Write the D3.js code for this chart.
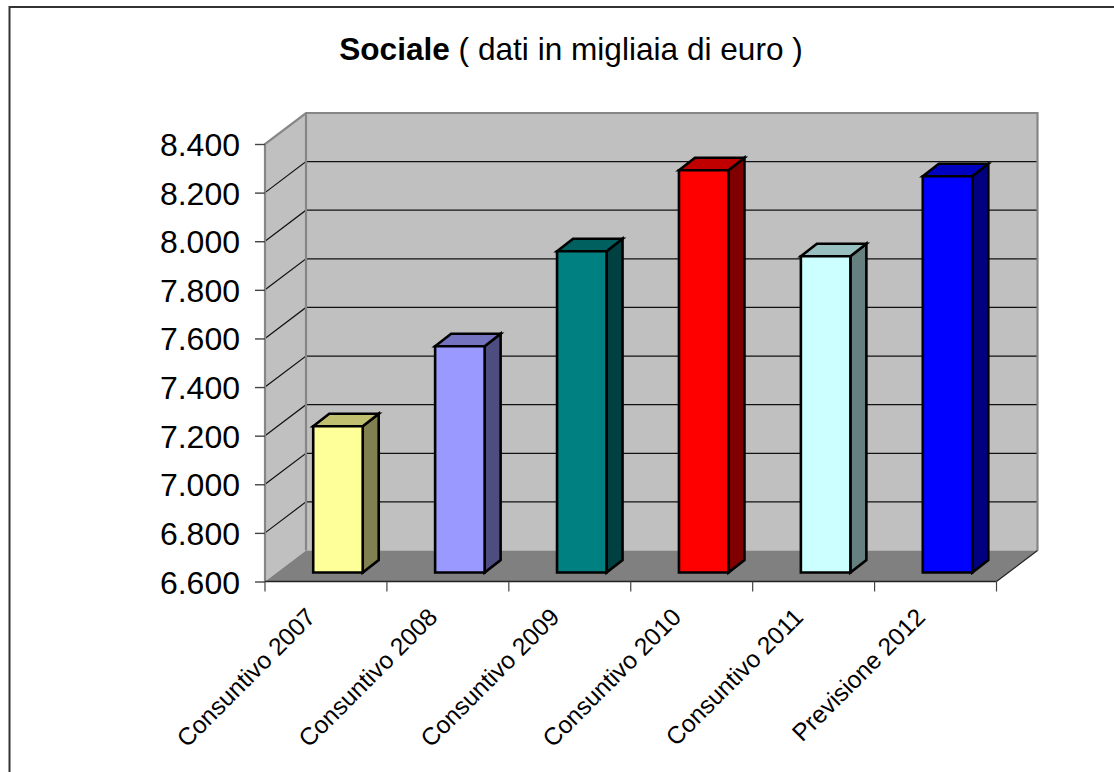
<!DOCTYPE html>
<html><head><meta charset="utf-8"><script src="https://cdn.jsdelivr.net/npm/d3@7"></script>
<style>html,body{margin:0;padding:0;background:#fff}svg{display:block}text{font-family:"Liberation Sans",Arial,sans-serif;fill:#000}</style>
</head><body><svg id="c" width="1114" height="772"></svg>
<script>
const categories=["Consuntivo 2007","Consuntivo 2008","Consuntivo 2009","Consuntivo 2010","Consuntivo 2011","Previsione 2012"];
const values=[7202,7531,7922,8255,7901,8230];
const frontColors=["#ffff99","#9999ff","#008080","#ff0000","#ccffff","#0000ff"];
const topColors=["#c0c070","#7373c0","#006060","#c00000","#99c0c0","#0000c0"];
const sideColors=["#808050","#4d4d80","#004040","#800000","#668080","#000080"];
const yTicks=[6600,6800,7000,7200,7400,7600,7800,8000,8200,8400];
const fmt=v=>d3.format(",")(v).replace(",",".");
const svg=d3.select("#c");
const y=d3.scaleLinear().domain([6600,8400]).range([581.5,144]);
const x=d3.scaleBand().domain(categories).range([265,996.5]).paddingInner(0.3).paddingOuter(0.15);
const dx=41,dy=-31;
const wall="#c0c0c0",floor="#808080",edge="#868686";
const L=x.range()[0],R=x.range()[1],T=y.range()[1],B=y.range()[0];
const poly=(pts,fill,stroke,sw)=>svg.append("polygon").attr("points",pts.map(p=>p.join(",")).join(" ")).attr("fill",fill).attr("stroke",stroke||"none").attr("stroke-width",sw||0).attr("stroke-linejoin","miter");
// frame
svg.append("path").attr("d","M9.5,772V7H1114").attr("fill","none").attr("stroke","#333").attr("stroke-width",2);
// title
const t=svg.append("text").attr("x",571).attr("y",60).attr("text-anchor","middle").attr("font-size",31.6);
t.append("tspan").attr("font-weight","bold").text("Sociale");
t.append("tspan").text(" ( dati in migliaia di euro )");
// walls and floor
poly([[L,T],[L+dx,T+dy],[L+dx,B+dy],[L,B]],wall);
poly([[L+dx,T+dy],[R+dx,T+dy],[R+dx,B+dy],[L+dx,B+dy]],wall);
poly([[L,B],[L+dx,B+dy],[R+dx,B+dy],[R,B]],floor);
// gridlines
yTicks.slice(1,-1).forEach(v=>{
 svg.append("path").attr("d",`M${L},${y(v)}L${L+dx},${y(v)+dy}H${R+dx}`).attr("fill","none").attr("stroke","#111").attr("stroke-width",1.2);
});
// wall edges
svg.append("path").attr("d",`M${L},${B}V${T}L${L+dx},${T+dy}H${R+dx}V${B+dy}`).attr("fill","none").attr("stroke",edge).attr("stroke-width",2.2);
svg.append("path").attr("d",`M${L+dx},${T+dy}V${B+dy}`).attr("fill","none").attr("stroke",edge).attr("stroke-width",2.2);
svg.append("path").attr("d",`M${R+dx},${B+dy}L${R},${B}`).attr("fill","none").attr("stroke","#222").attr("stroke-width",1.2);
// axes
const gy=svg.append("g").attr("transform",`translate(${L},0)`).call(d3.axisLeft(y).tickValues(yTicks).tickFormat(fmt).tickSize(10).tickPadding(15));
gy.select(".domain").remove();
gy.selectAll(".tick line").attr("stroke","#444").attr("stroke-width",1.4);
gy.selectAll("text").attr("font-size",32).attr("dy","0.36em").style("font-family",'"Liberation Sans",Arial,sans-serif');
const xTickPos=categories.map((c,i)=>L+i*(R-L)/categories.length).concat([R]);
svg.append("path").attr("d",`M${L},${B}H${R}`).attr("stroke","#222").attr("stroke-width",1.6);
svg.selectAll(".xt").data(xTickPos).join("line").attr("class","xt").attr("x1",d=>d).attr("x2",d=>d).attr("y1",B).attr("y2",B+10).attr("stroke","#444").attr("stroke-width",1.2);
svg.selectAll(".xl").data(categories).join("text").attr("class","xl").attr("font-size",24.5).attr("text-anchor","end")
 .attr("transform",(d,i)=>`translate(${x(d)+x.bandwidth()/2-9},${B+37}) rotate(-45)`).text(d=>d);
// bars
const fdx=12,fdy=-9,bdx=16,bdy=-12.5;
const bw=49.5;
categories.forEach((c,i)=>{
 const cx=L+(i+0.5)*(R-L)/categories.length+fdx;
 const x0=cx-bw/2,x1=cx+bw/2,yb=B+fdy,yt=y(values[i])+fdy;
 const g={front:[[x0,yt],[x1,yt],[x1,yb],[x0,yb]],top:[[x0,yt],[x0+bdx,yt+bdy],[x1+bdx,yt+bdy],[x1,yt]],side:[[x1,yt],[x1+bdx,yt+bdy],[x1+bdx,yb+bdy],[x1,yb]]};
 poly(g.side,sideColors[i],"#000",2.6);
 poly(g.top,topColors[i],"#000",2.6);
 poly(g.front,frontColors[i],"#000",2.6);
});
</script></body></html>
